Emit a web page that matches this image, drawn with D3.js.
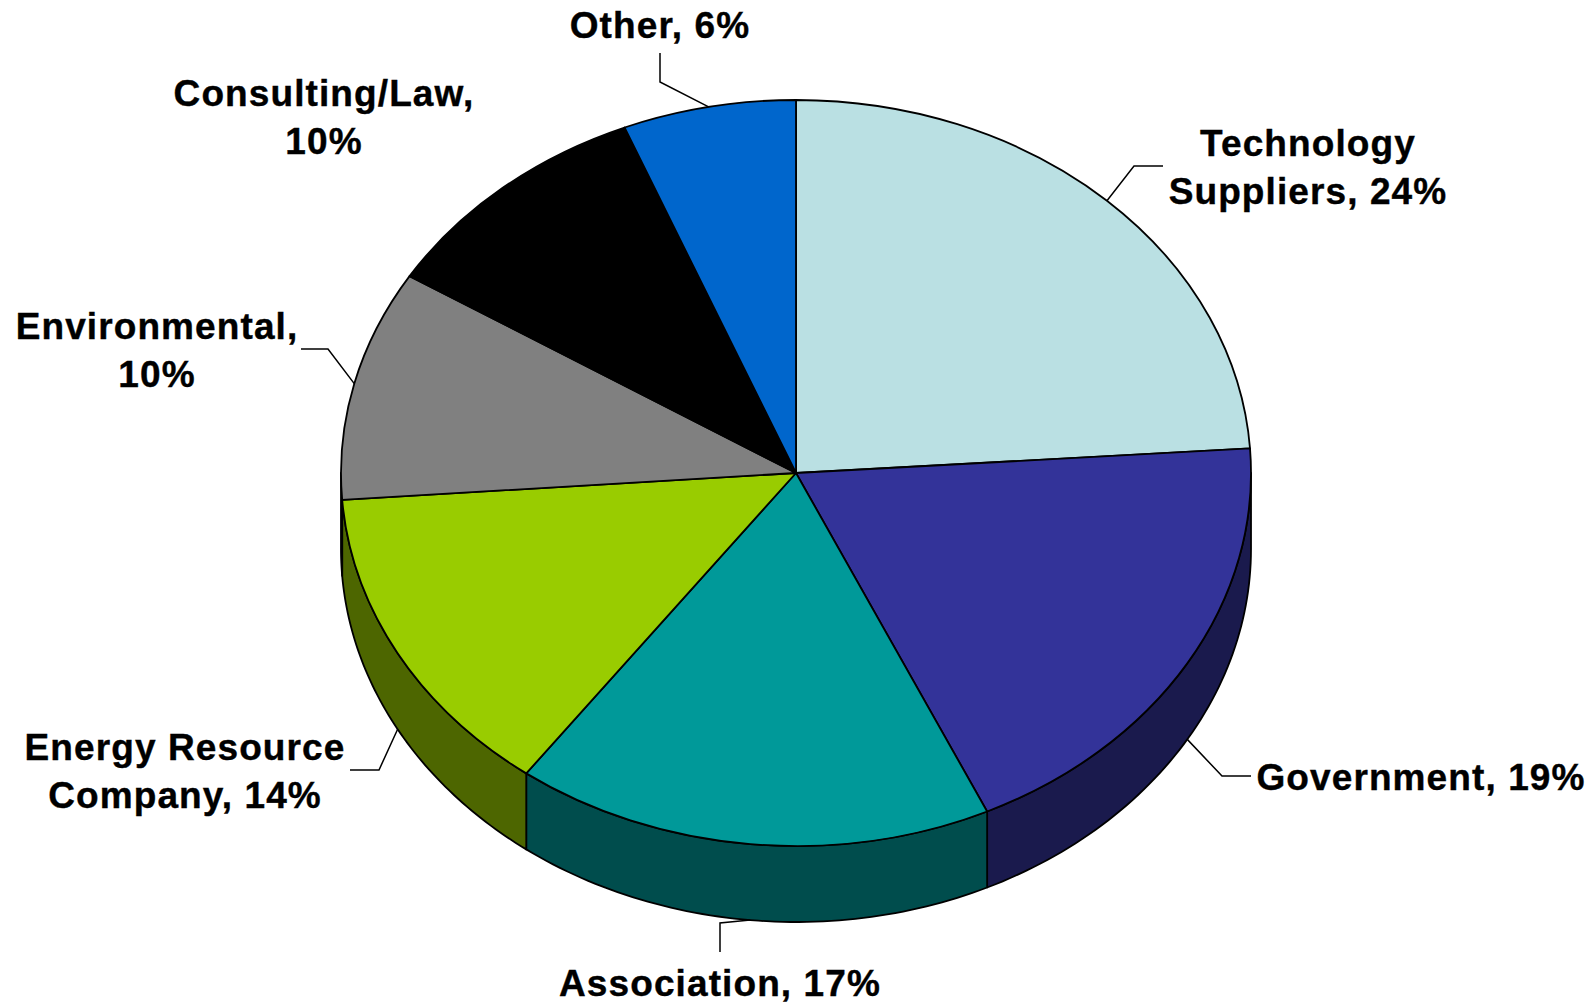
<!DOCTYPE html>
<html>
<head>
<meta charset="utf-8">
<script src="https://cdn.jsdelivr.net/npm/d3@7"></script>
<style>
  html, body { margin: 0; background: #fff; }
  .label { font-family: "Liberation Sans", Arial, sans-serif; font-weight: bold; font-size: 37px; letter-spacing: 1.1px; fill: #000; stroke: #000; stroke-width: 0.4; text-anchor: middle; }
  .leader { fill: none; stroke: #000; stroke-width: 1.5; }
  .slice, .side { stroke: #000; stroke-width: 1.8; stroke-linejoin: round; }
</style>
</head>
<body>
<div id="chart"></div>
<script>
// data, clockwise from 12 o'clock. shares read off the slice edges, so not quite the rounded labels
const categories = ["Technology Suppliers", "Government", "Association", "Energy Resource Company", "Environmental", "Consulting/Law", "Other"];
const shares = [23.95, 19.15, 17, 13.75, 10, 10, 6.15];
const labelLines = [
  ["Technology", "Suppliers, 24%"],
  ["Government, 19%"],
  ["Association, 17%"],
  ["Energy Resource", "Company, 14%"],
  ["Environmental,", "10%"],
  ["Consulting/Law,", "10%"],
  ["Other, 6%"]
];
const topColors = ["#bae0e3", "#333399", "#009999", "#99cc00", "#808080", "#000000", "#0066cc"];
const sideColors = ["#5d7072", "#1a1a4d", "#004d4d", "#4d6600", "#404040", "#000000", "#003366"];

// layout, kept apart from the values: label centre + first baseline, leader start + elbow
const labelPos = [[1308, 156], [1421, 790], [720, 996], [185, 760], [157, 339], [324, 106], [660, 38]];
const leaderPts = [[[1163, 166], [1134, 166]], [[1251, 776], [1222, 776]], [[720, 952], [720, 923]], [[350, 770], [379, 770]], [[301, 349], [328, 349]], null, [[660, 53], [660, 82]]];

const width = 1596, height = 1003;
const cx = 796, cy = 473, rx = 455, ry = 373, depth = 76;
const lineGap = 48;

const color = d3.scaleOrdinal().domain(categories).range(topColors);
const sideColor = d3.scaleOrdinal().domain(categories).range(sideColors);

const pie = d3.pie().sort(null).value(function(d) { return d.share; });
const slices = pie(categories.map(function(c, i) { return { name: c, share: shares[i], lines: labelLines[i], pos: labelPos[i], leader: leaderPts[i] }; }));

// point on the top ellipse for a pie angle (0 = up, clockwise)
const ex = function(a) { return rx * Math.sin(a); };
const ey = function(a) { return -ry * Math.cos(a); };

const svg = d3.select("#chart").append("svg")
  .attr("width", width)
  .attr("height", height)
  .style("display", "block");

const g = svg.append("g").attr("transform", "translate(" + cx + "," + cy + ")");

// side wall, only the part of each slice facing the viewer (90deg to 270deg)
const wall = d3.area()
  .x(function(a) { return ex(a); })
  .y0(function(a) { return ey(a); })
  .y1(function(a) { return ey(a) + depth; });

g.selectAll(".side")
  .data(slices.filter(function(d) { return d.endAngle > Math.PI / 2 && d.startAngle < 3 * Math.PI / 2; }))
  .enter().append("path")
  .attr("class", "side")
  .attr("fill", function(d) { return sideColor(d.data.name); })
  .attr("d", function(d) {
    const a0 = Math.max(d.startAngle, Math.PI / 2);
    const a1 = Math.min(d.endAngle, 3 * Math.PI / 2);
    const steps = d3.range(0, 61).map(function(i) { return a0 + (a1 - a0) * i / 60; });
    return wall(steps);
  });

// top face: a circular arc squashed to the ellipse
const arc = d3.arc().innerRadius(0).outerRadius(rx);

g.selectAll(".slice")
  .data(slices)
  .enter().append("path")
  .attr("class", "slice")
  .attr("fill", function(d) { return color(d.data.name); })
  .attr("transform", "scale(1," + (ry / rx) + ")")
  .attr("vector-effect", "non-scaling-stroke")
  .attr("d", arc);

// leader lines end at the slice's mid angle on the visible rim
const leaderLine = d3.line();
svg.selectAll(".leader")
  .data(slices.filter(function(d) { return d.data.leader; }))
  .enter().append("path")
  .attr("class", "leader")
  .attr("d", function(d) {
    const mid = (d.startAngle + d.endAngle) / 2;
    const front = Math.cos(mid) < 0 ? depth : 0;
    return leaderLine(d.data.leader.concat([[cx + ex(mid), cy + ey(mid) + front]]));
  });

const labels = svg.selectAll(".label")
  .data(slices)
  .enter().append("text")
  .attr("class", "label")
  .attr("x", function(d) { return d.data.pos[0]; })
  .attr("y", function(d) { return d.data.pos[1]; });

labels.selectAll("tspan")
  .data(function(d) { return d.data.lines.map(function(t) { return { text: t, x: d.data.pos[0] }; }); })
  .enter().append("tspan")
  .attr("x", function(d) { return d.x; })
  .attr("dy", function(d, i) { return i === 0 ? 0 : lineGap; })
  .text(function(d) { return d.text; });
</script>
</body>
</html>
